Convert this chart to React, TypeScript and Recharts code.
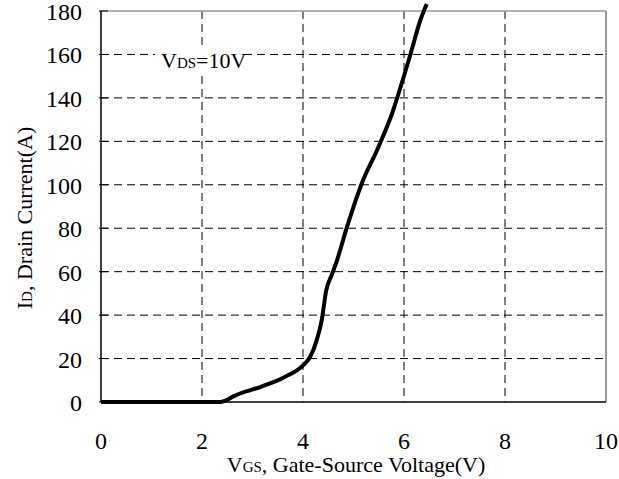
import { LineChart, Line, XAxis, YAxis, CartesianGrid, ReferenceLine, Customized } from 'recharts';

// Transfer characteristic, VDS = 10V
const vgsValues = [0, 2.36, 2.46, 2.62, 3.15, 3.61, 4.0, 4.14, 4.27, 4.37, 4.46, 4.57, 4.67, 4.87, 5.16, 5.49, 5.76, 5.99, 6.12, 6.32, 6.45];
const idValues = [0, 0, 0.6, 2.6, 6.9, 11.2, 16.9, 20.7, 28.4, 37.6, 51.4, 58.5, 65, 80.5, 100.4, 117.2, 132.6, 149.4, 159.4, 175.5, 183.2];

const xTicks = [0, 2, 4, 6, 8, 10];
const yTicks = [0, 20, 40, 60, 80, 100, 120, 140, 160, 180];
const xGrid = [2, 4, 6, 8];
const yGrid = [20, 40, 60, 80, 100, 120, 140, 160];

const data = vgsValues.map((v, i) => ({ vgs: v, id: idValues[i] }));

const FONT = '"Liberation Serif", "Times New Roman", serif';

function XTick({ x, y, payload }: any) {
  return (
    <text x={x} y={y + 45} textAnchor="middle" fontFamily={FONT} fontSize={24} fill="#000">
      {payload.value}
    </text>
  );
}

function YTick({ x, y, payload }: any) {
  return (
    <g>
      <line x1={x} x2={x + 9} y1={y} y2={y} stroke="#000" strokeWidth={1} />
      <text x={82} y={y + 9} textAnchor="end" fontFamily={FONT} fontSize={24} fill="#000">
        {payload.value}
      </text>
    </g>
  );
}

function Annotations() {
  return (
    <g fontFamily={FONT} fill="#000">
      <rect x={155} y={46} width={90} height={26} fill="#fff" />
      <text x={161} y={68} fontSize={22}>
        V<tspan fontSize={15}>DS</tspan>=10V
      </text>
      <text x={356} y={472} fontSize={22} textAnchor="middle">
        V<tspan fontSize={15}>GS</tspan>, Gate-Source Voltage(V)
      </text>
      <text transform="translate(32, 218) rotate(-90)" fontSize={22} textAnchor="middle">
        I<tspan fontSize={15}>D</tspan>, Drain Current(A)
      </text>
    </g>
  );
}

export default function App() {
  return (
    <div style={{ position: 'absolute', left: 0, top: 0, width: 619, height: 479, background: '#fff' }}>
      <style>{'.recharts-wrapper g[clip-path], .recharts-line, .recharts-line-curve { clip-path: none !important; }'}</style>
      <LineChart width={619} height={479} data={data} margin={{ top: 11, right: 13, bottom: 0, left: 0 }}>
        <CartesianGrid
          stroke="#000"
          strokeDasharray="8 5"
          horizontalValues={yGrid}
          verticalValues={xGrid}
        />
        <XAxis
          dataKey="vgs"
          type="number"
          domain={[0, 10]}
          ticks={xTicks}
          tickLine={false}
          tickSize={0}
          tick={<XTick />}
          axisLine={{ stroke: '#000', strokeWidth: 1.5 }}
          height={77}
          interval={0}
        />
        <YAxis
          type="number"
          domain={[0, 180]}
          ticks={yTicks}
          allowDataOverflow
          tickLine={false}
          tickSize={0}
          tick={<YTick />}
          axisLine={{ stroke: '#000', strokeWidth: 1.5 }}
          width={101}
          interval={0}
        />
        <ReferenceLine y={180} stroke="#999" strokeWidth={1.5} />
        <ReferenceLine x={10} stroke="#999" strokeWidth={2} />
        <Customized component={Annotations} />
        <Line
          type="monotone"
          dataKey="id"
          stroke="#000"
          strokeWidth={4}
          dot={false}
          isAnimationActive={false}
        />
      </LineChart>
    </div>
  );
}
